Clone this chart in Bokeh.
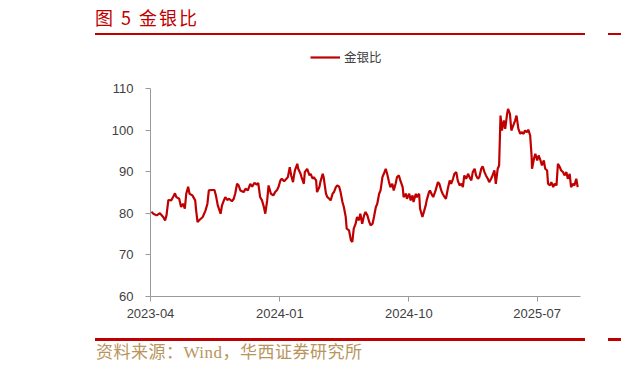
from bokeh.plotting import figure
from bokeh.models import (Range1d, FixedTicker, DatetimeTickFormatter, Div,
                          Legend, LegendItem, ColumnDataSource)
from bokeh.layouts import column
from bokeh.embed import file_html
from bokeh.resources import INLINE
import pandas as pd

# ---- data ----
dates = [
    "2023-04-03", "2023-04-07", "2023-04-14", "2023-04-21", "2023-04-28", "2023-05-02", "2023-05-05",
    "2023-05-09", "2023-05-15", "2023-05-19", "2023-05-23", "2023-05-26", "2023-06-01", "2023-06-05",
    "2023-06-09", "2023-06-13", "2023-06-16", "2023-06-20", "2023-06-23", "2023-06-29", "2023-07-05",
    "2023-07-07", "2023-07-10", "2023-07-14", "2023-07-21", "2023-07-27", "2023-07-31", "2023-08-03",
    "2023-08-09", "2023-08-15", "2023-08-18", "2023-08-22", "2023-08-28", "2023-08-31", "2023-09-04",
    "2023-09-07", "2023-09-11", "2023-09-15", "2023-09-21", "2023-09-25", "2023-09-28", "2023-10-02",
    "2023-10-05", "2023-10-09", "2023-10-16", "2023-10-20", "2023-10-25", "2023-10-30", "2023-11-03",
    "2023-11-08", "2023-11-13", "2023-11-16", "2023-11-20", "2023-11-24", "2023-11-28", "2023-12-01",
    "2023-12-05", "2023-12-08", "2023-12-13", "2023-12-18", "2023-12-22", "2023-12-26", "2023-12-29",
    "2024-01-02", "2024-01-05", "2024-01-10", "2024-01-15", "2024-01-18", "2024-01-22", "2024-01-25",
    "2024-01-29", "2024-01-31", "2024-02-02", "2024-02-07", "2024-02-09", "2024-02-14", "2024-02-16",
    "2024-02-21", "2024-02-23", "2024-02-28", "2024-03-04", "2024-03-06", "2024-03-11", "2024-03-13",
    "2024-03-18", "2024-03-20", "2024-03-25", "2024-03-27", "2024-04-01", "2024-04-03", "2024-04-08",
    "2024-04-11", "2024-04-15", "2024-04-18", "2024-04-22", "2024-04-25", "2024-04-29", "2024-05-02",
    "2024-05-06", "2024-05-09", "2024-05-13", "2024-05-16", "2024-05-20", "2024-05-22", "2024-05-27",
    "2024-05-29", "2024-05-31", "2024-06-03", "2024-06-06", "2024-06-10", "2024-06-13", "2024-06-17",
    "2024-06-20", "2024-06-24", "2024-06-28", "2024-07-01", "2024-07-05", "2024-07-09", "2024-07-12",
    "2024-07-16", "2024-07-19", "2024-07-23", "2024-07-26", "2024-07-30", "2024-08-02", "2024-08-06",
    "2024-08-09", "2024-08-13", "2024-08-16", "2024-08-20", "2024-08-23", "2024-08-27", "2024-08-30",
    "2024-09-03", "2024-09-06", "2024-09-10", "2024-09-13", "2024-09-18", "2024-09-20", "2024-09-25",
    "2024-09-27", "2024-10-02", "2024-10-05", "2024-10-09", "2024-10-11", "2024-10-16", "2024-10-18",
    "2024-10-23", "2024-10-25", "2024-10-30", "2024-11-03", "2024-11-06", "2024-11-08", "2024-11-13",
    "2024-11-15", "2024-11-20", "2024-11-22", "2024-11-27", "2024-12-02", "2024-12-05", "2024-12-09",
    "2024-12-12", "2024-12-16", "2024-12-19", "2024-12-23", "2024-12-27", "2024-12-30", "2025-01-03",
    "2025-01-06", "2025-01-10", "2025-01-13", "2025-01-17", "2025-01-21", "2025-01-24", "2025-01-27",
    "2025-01-31", "2025-02-04", "2025-02-07", "2025-02-11", "2025-02-14", "2025-02-18", "2025-02-21",
    "2025-02-25", "2025-02-28", "2025-03-04", "2025-03-07", "2025-03-11", "2025-03-14", "2025-03-18",
    "2025-03-21", "2025-03-25", "2025-03-28", "2025-04-01", "2025-04-04", "2025-04-08", "2025-04-11",
    "2025-04-14", "2025-04-17", "2025-04-21", "2025-04-24", "2025-04-28", "2025-04-30", "2025-05-04",
    "2025-05-07", "2025-05-11", "2025-05-15", "2025-05-18", "2025-05-22", "2025-05-26", "2025-05-29",
    "2025-06-02", "2025-06-05", "2025-06-09", "2025-06-12", "2025-06-16", "2025-06-19", "2025-06-20",
    "2025-06-24", "2025-06-27", "2025-07-01", "2025-07-04", "2025-07-08", "2025-07-11", "2025-07-15",
    "2025-07-18", "2025-07-22", "2025-07-24", "2025-07-28", "2025-07-31", "2025-08-04", "2025-08-07",
    "2025-08-11", "2025-08-14", "2025-08-18", "2025-08-21", "2025-08-25", "2025-08-28", "2025-09-01",
    "2025-09-04", "2025-09-08", "2025-09-11", "2025-09-15", "2025-09-18", "2025-09-22", "2025-09-25",
]
gold_silver_ratio = [
    80.4, 79.9, 79.5, 80.0, 79.1, 78.3, 79.5,
    83.2, 83.1, 83.9, 84.8, 83.9, 83.5, 81.5,
    82.3, 81.1, 84.7, 86.4, 84.7, 84.3, 83.1,
    80.7, 77.9, 78.4, 79.1, 80.7, 82.3, 85.5,
    85.6, 85.6, 84.3, 81.9, 79.9, 81.9, 83.1,
    83.9, 83.2, 83.5, 82.9, 83.5, 84.7, 87.1,
    86.8, 85.5, 85.1, 85.9, 85.5, 87.1, 86.4,
    87.3, 86.9, 87.3, 83.9, 83.1, 81.5, 79.9,
    83.1, 86.7, 84.7, 84.3, 85.1, 85.6, 86.3,
    87.9, 88.3, 87.7, 88.3, 88.7, 91.1, 89.1,
    87.5, 89.1, 90.3, 91.9, 90.7, 89.5, 88.7,
    87.1, 89.9, 90.7, 89.1, 89.5, 88.3, 88.7,
    87.9, 85.1, 86.3, 87.5, 89.5, 88.7, 84.7,
    83.9, 83.5, 83.1, 84.7, 85.1, 86.3, 86.7,
    86.4, 85.1, 82.7, 81.5, 79.1, 76.3, 75.9,
    74.7, 73.5, 73.1, 76.3, 77.5, 79.1, 78.3,
    79.9, 77.5, 79.5, 80.3, 79.5, 77.9, 77.1,
    77.5, 79.1, 81.5, 82.3, 84.7, 85.5, 88.7,
    89.5, 90.7, 89.5, 87.5, 86.3, 87.1, 85.5,
    87.1, 88.7, 89.1, 87.9, 86.3, 83.9, 84.7,
    83.5, 84.7, 83.1, 84.3, 82.7, 84.7, 83.9,
    84.7, 81.1, 79.1, 80.7, 81.9, 83.1, 85.1,
    85.5, 84.3, 83.9, 85.5, 87.5, 87.1, 85.5,
    84.7, 83.9, 83.5, 85.9, 87.9, 87.1, 88.3,
    89.5, 89.9, 87.9, 86.7, 87.1, 86.3, 89.1,
    88.3, 89.5, 88.7, 87.9, 89.9, 90.7, 89.1,
    88.3, 88.7, 90.7, 91.3, 89.9, 89.1, 88.3,
    87.5, 88.3, 89.1, 90.3, 87.1, 90.7, 91.5,
    103.5, 99.9, 102.3, 100.3, 103.9, 105.1, 103.9,
    99.9, 101.1, 102.3, 103.5, 100.3, 99.1, 99.5,
    99.1, 99.9, 99.5, 100.1, 98.7, 93.9, 90.7,
    93.1, 94.3, 92.7, 93.9, 92.7, 91.5, 92.7,
    90.7, 90.3, 87.1, 86.7, 87.5, 86.3, 87.1,
    86.7, 91.9, 91.1, 90.3, 89.9, 89.1, 89.9,
    88.3, 89.5, 86.3, 87.1, 86.7, 88.3, 86.3,
]
series_name = "金银比"
x_start, x_end = "2023-04-01", "2025-10-01"
y_axis_min, y_axis_max = 60, 110
x_tick_dates = ["2023-04-01", "2024-01-01", "2024-10-01", "2025-07-01"]
y_ticks = [60, 70, 80, 90, 100, 110]
title_text = "图 5 金银比"
source_text = "资料来源：Wind，华西证券研究所"

RED = "#C00000"
AX = "#9a9a9a"
LAB = "#404040"
W = 621
TITLE_H, FIG_H, FOOT_H = 36, 300, 36
FL, FW = 150, 430
FT, FH = 4, 256          # frame extended upward to host the legend
PX_PER_UNIT = 4.16
y_top = y_axis_max + (FH - (y_axis_max - y_axis_min) * PX_PER_UNIT) / PX_PER_UNIT

# ---- title block ----
title_html = f"""
<div style="position:relative;width:{W}px;height:{TITLE_H}px;overflow:hidden;">
  <div style="position:absolute;left:95px;top:6px;font-family:'Noto Sans CJK SC';
       font-size:18px;line-height:22px;letter-spacing:2px;color:{RED};white-space:nowrap;">{title_text}</div>
  <div style="position:absolute;left:95px;top:32.5px;width:490px;height:2.5px;background:{RED};"></div>
  <div style="position:absolute;left:608px;top:32.5px;width:13px;height:2.5px;background:{RED};"></div>
</div>"""
title_div = Div(text=title_html, width=W, height=TITLE_H, margin=0)

# ---- chart ----
src = ColumnDataSource(dict(x=pd.to_datetime(dates), y=gold_silver_ratio))

p = figure(width=W, height=FIG_H, x_axis_type="datetime", output_backend="svg",
           toolbar_location=None, title=None, margin=0,
           x_range=Range1d(pd.Timestamp(x_start), pd.Timestamp(x_end)),
           y_range=Range1d(y_axis_min, y_top),
           min_border_left=FL, min_border_right=W - FL - FW,
           min_border_top=FT, min_border_bottom=FIG_H - FT - FH)
p.outline_line_color = None
p.grid.visible = False

r = p.line("x", "y", source=src, line_color=RED, line_width=2.2)

for ax in (p.xaxis[0], p.yaxis[0]):
    ax.axis_line_color = AX
    ax.major_tick_line_color = AX
    ax.minor_tick_line_color = None
    ax.major_tick_in = 0
    ax.major_tick_out = 5
    ax.major_label_text_color = LAB
    ax.major_label_text_font = "Liberation Sans"
    ax.major_label_text_font_size = "13px"

p.xaxis[0].ticker = FixedTicker(ticks=[pd.Timestamp(d).value // 10**6 for d in x_tick_dates])
fmt = "%Y-%m"
p.xaxis[0].formatter = DatetimeTickFormatter(years=fmt, months=fmt, days=fmt, hours=fmt,
                                             minutes=fmt, seconds=fmt, milliseconds=fmt,
                                             microseconds=fmt, hourmin=fmt, minsec=fmt)
p.xaxis[0].major_label_standoff = 7
p.yaxis[0].ticker = FixedTicker(ticks=[float(v) for v in y_ticks])
p.yaxis[0].bounds = (y_axis_min, y_axis_max)
p.yaxis[0].major_label_standoff = 12

legend = Legend(items=[LegendItem(label=series_name, renderers=[r])],
                location=(160, 230), orientation="horizontal",
                border_line_color=None, background_fill_alpha=0,
                padding=0, margin=0, spacing=0,
                glyph_width=30, glyph_height=14, label_standoff=4,
                label_text_font="Noto Sans CJK SC", label_text_font_size="12.5px",
                label_text_color=LAB)
p.add_layout(legend, "center")

# ---- source block ----
foot_html = f"""
<div style="position:relative;width:{W}px;height:{FOOT_H}px;overflow:hidden;">
  <div style="position:absolute;left:95px;top:2.3px;width:490px;height:2.5px;background:{RED};"></div>
  <div style="position:absolute;left:608px;top:2.3px;width:13px;height:2.5px;background:{RED};"></div>
  <div style="position:absolute;left:96px;top:7px;font-family:'Liberation Serif','Noto Sans CJK SC';
       font-size:17px;line-height:20px;letter-spacing:0.5px;color:#B8955C;white-space:nowrap;">{source_text}</div>
</div>"""
foot_div = Div(text=foot_html, width=W, height=FOOT_H, margin=0)

layout = column(title_div, p, foot_div, spacing=0)
open("out.html", "w").write(file_html(layout, INLINE))
